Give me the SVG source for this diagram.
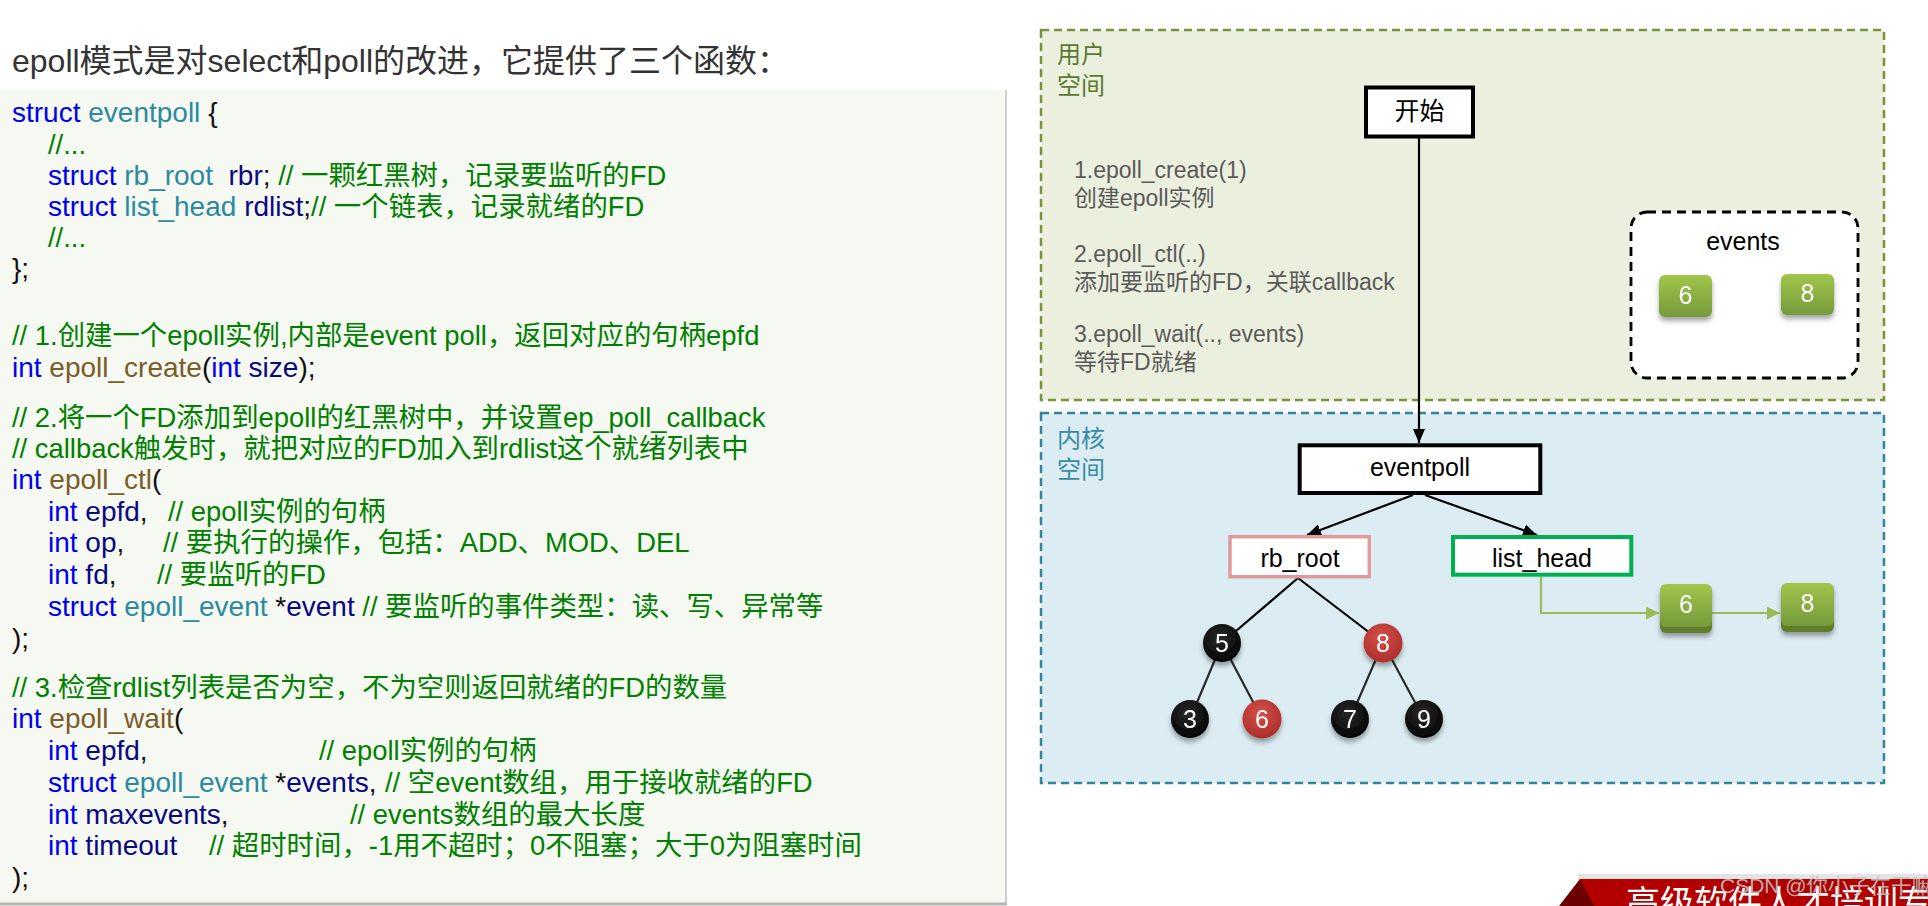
<svg xmlns="http://www.w3.org/2000/svg" width="1928" height="906" viewBox="0 0 1928 906">
<defs>
<style>
.t{font-family:"Liberation Sans","Noto Sans CJK SC",sans-serif;}
.code{font-family:"Liberation Sans","Noto Sans CJK SC",sans-serif;font-size:28px;white-space:pre;}
.kw{fill:#0000f0}.ty{fill:#2b8a9e}.id{fill:#0a0a80}.fn{fill:#7a5c28}.p{fill:#111}
.cm{fill:#008000;font-size:27.4px}
.lbl{font-size:25px;fill:#000;text-anchor:middle}
.num{font-size:25px;fill:#fff;text-anchor:middle}
.step{font-size:23px;fill:#5a5a5a}
.edge{stroke:#000;stroke-width:2.2;fill:none}
.leaf{stroke:#2a2a2a;stroke-width:2.2;fill:none}
.garrow{stroke:#9bbb59;stroke-width:2.2;fill:none}
</style>
<marker id="ah" viewBox="0 0 14 12" refX="14" refY="6" markerWidth="14" markerHeight="12" markerUnits="userSpaceOnUse" orient="auto"><path d="M0,0 L14,6 L0,12 z" fill="#000"/></marker>
<marker id="gh" viewBox="0 0 13 13" refX="13" refY="6.5" markerWidth="13" markerHeight="13" markerUnits="userSpaceOnUse" orient="auto"><path d="M0,0 L13,6.5 L0,13 z" fill="#9bbb59"/></marker>
<linearGradient id="gg" x1="0" y1="0" x2="0" y2="1"><stop offset="0" stop-color="#a0c64c"/><stop offset="1" stop-color="#76993a"/></linearGradient>
<radialGradient id="bg" cx="0.45" cy="0.35" r="0.7"><stop offset="0" stop-color="#2a2a2a"/><stop offset="1" stop-color="#000"/></radialGradient>
<radialGradient id="rg" cx="0.45" cy="0.35" r="0.7"><stop offset="0" stop-color="#d4504a"/><stop offset="1" stop-color="#a92c28"/></radialGradient>
<filter id="sh" x="-40%" y="-40%" width="180%" height="190%"><feDropShadow dx="0" dy="4" stdDeviation="2.5" flood-color="#000" flood-opacity="0.35"/></filter>
</defs>

<rect width="1928" height="906" fill="#fff"/>

<!-- left: code panel -->
<g id="code-panel">
<text class="t" x="12" y="72" font-size="32" fill="#333">epoll模式是对select和poll的改进，它提供了三个函数：</text>
<rect x="0" y="90" width="1006" height="813" fill="#f6f8f2"/>
<line x1="1006" y1="90" x2="1006" y2="903" stroke="#cfcfcf" stroke-width="2"/>
<line x1="0" y1="904" x2="1007" y2="904" stroke="#b5b5b5" stroke-width="3"/>
<text class="code" x="12" y="122"><tspan class="kw">struct</tspan> <tspan class="ty">eventpoll</tspan> <tspan class="p">{</tspan></text>
<text class="code cm" x="48" y="154">//...</text>
<text class="code" x="48" y="185"><tspan class="kw">struct</tspan> <tspan class="ty">rb_root</tspan>  <tspan class="id">rbr</tspan><tspan class="p">;</tspan><tspan class="cm"> // 一颗红黑树，记录要监听的FD</tspan></text>
<text class="code" x="48" y="216"><tspan class="kw">struct</tspan> <tspan class="ty">list_head</tspan> <tspan class="id">rdlist</tspan><tspan class="p">;</tspan><tspan class="cm">// 一个链表，记录就绪的FD</tspan></text>
<text class="code cm" x="48" y="247">//...</text>
<text class="code p" x="12" y="278">};</text>

<text class="code cm" x="12" y="345">// 1.创建一个epoll实例,内部是event poll，返回对应的句柄epfd</text>
<text class="code" x="12" y="377"><tspan class="kw">int</tspan> <tspan class="fn">epoll_create</tspan><tspan class="p">(</tspan><tspan class="kw">int</tspan> <tspan class="id">size</tspan><tspan class="p">);</tspan></text>

<text class="code cm" x="12" y="427">// 2.将一个FD添加到epoll的红黑树中，并设置ep_poll_callback</text>
<text class="code cm" x="12" y="458">// callback触发时，就把对应的FD加入到rdlist这个就绪列表中</text>
<text class="code" x="12" y="489"><tspan class="kw">int</tspan> <tspan class="fn">epoll_ctl</tspan><tspan class="p">(</tspan></text>
<text class="code" x="48" y="521"><tspan class="kw">int</tspan> <tspan class="id">epfd</tspan><tspan class="p">,</tspan><tspan class="cm" x="168">// epoll实例的句柄</tspan></text>
<text class="code" x="48" y="552"><tspan class="kw">int</tspan> <tspan class="id">op</tspan><tspan class="p">,</tspan><tspan class="cm" x="163">// 要执行的操作，包括：ADD、MOD、DEL</tspan></text>
<text class="code" x="48" y="584"><tspan class="kw">int</tspan> <tspan class="id">fd</tspan><tspan class="p">,</tspan><tspan class="cm" x="157">// 要监听的FD</tspan></text>
<text class="code" x="48" y="616"><tspan class="kw">struct</tspan> <tspan class="ty">epoll_event</tspan> <tspan class="p">*</tspan><tspan class="id">event</tspan><tspan class="cm"> // 要监听的事件类型：读、写、异常等</tspan></text>
<text class="code p" x="12" y="648">);</text>

<text class="code cm" x="12" y="697">// 3.检查rdlist列表是否为空，不为空则返回就绪的FD的数量</text>
<text class="code" x="12" y="728"><tspan class="kw">int</tspan> <tspan class="fn">epoll_wait</tspan><tspan class="p">(</tspan></text>
<text class="code" x="48" y="760"><tspan class="kw">int</tspan> <tspan class="id">epfd</tspan><tspan class="p">,</tspan><tspan class="cm" x="319">// epoll实例的句柄</tspan></text>
<text class="code" x="48" y="792"><tspan class="kw">struct</tspan> <tspan class="ty">epoll_event</tspan> <tspan class="p">*</tspan><tspan class="id">events</tspan><tspan class="p">,</tspan><tspan class="cm" x="385">// 空event数组，用于接收就绪的FD</tspan></text>
<text class="code" x="48" y="824"><tspan class="kw">int</tspan> <tspan class="id">maxevents</tspan><tspan class="p">,</tspan><tspan class="cm" x="350">// events数组的最大长度</tspan></text>
<text class="code" x="48" y="855"><tspan class="kw">int</tspan> <tspan class="id">timeout</tspan><tspan class="cm" x="209">// 超时时间，-1用不超时；0不阻塞；大于0为阻塞时间</tspan></text>
<text class="code p" x="12" y="887">);</text>
</g>

<!-- right: regions -->
<g id="user-space">
<rect x="1041" y="30" width="843" height="370" fill="#ebefde" stroke="#77933c" stroke-width="2.5" stroke-dasharray="8 5"/>
<text class="t" x="1057" y="63" font-size="24" fill="#5b7a2e">用户</text>
<text class="t" x="1057" y="94" font-size="24" fill="#5b7a2e">空间</text>
</g>
<g id="kernel-space">
<rect x="1041" y="413" width="843" height="370" fill="#dbedf3" stroke="#31849b" stroke-width="2.5" stroke-dasharray="8 5"/>
<text class="t" x="1057" y="447" font-size="24" fill="#3a8ca6">内核</text>
<text class="t" x="1057" y="478" font-size="24" fill="#3a8ca6">空间</text>
</g>

<g id="steps">
<text class="t step" x="1074" y="178">1.epoll_create(1)</text>
<text class="t step" x="1074" y="206">创建epoll实例</text>
<text class="t step" x="1074" y="262">2.epoll_ctl(..)</text>
<text class="t step" x="1074" y="290">添加要监听的FD，关联callback</text>
<text class="t step" x="1074" y="342">3.epoll_wait(.., events)</text>
<text class="t step" x="1074" y="370">等待FD就绪</text>
</g>

<!-- connectors -->
<g id="connectors">
<line class="edge" x1="1419" y1="138" x2="1419" y2="443" marker-end="url(#ah)"/>
<line class="edge" x1="1413" y1="495" x2="1307" y2="535" marker-end="url(#ah)"/>
<line class="edge" x1="1425" y1="495" x2="1537" y2="535" marker-end="url(#ah)"/>
<line class="edge" x1="1298" y1="578" x2="1222" y2="643"/>
<line class="edge" x1="1298" y1="578" x2="1383" y2="643"/>
<line class="leaf" x1="1222" y1="643" x2="1190" y2="719"/>
<line class="leaf" x1="1222" y1="643" x2="1262" y2="719"/>
<line class="leaf" x1="1383" y1="643" x2="1350" y2="719"/>
<line class="leaf" x1="1383" y1="643" x2="1424" y2="719"/>
<polyline class="garrow" points="1541,577 1541,613 1659,613" marker-end="url(#gh)"/>
<line class="garrow" x1="1712" y1="613" x2="1780" y2="613" marker-end="url(#gh)"/>
</g>

<g id="start">
<rect x="1366" y="87.5" width="107" height="49" fill="#fff" stroke="#000" stroke-width="4"/>
<text class="t lbl" x="1419.5" y="120" font-size="24">开始</text>
</g>

<g id="events">
<rect x="1631" y="212" width="227" height="166" rx="16" fill="#fff" stroke="#000" stroke-width="2.8" stroke-dasharray="9 6"/>
<text class="t lbl" x="1743" y="250">events</text>
</g>
<g id="ev6" filter="url(#sh)">
<rect x="1659" y="275" width="53" height="42" rx="6" fill="url(#gg)"/>
<text class="t num" x="1685.5" y="304">6</text>
</g>
<g id="ev8" filter="url(#sh)">
<rect x="1781" y="274" width="53" height="41" rx="6" fill="url(#gg)"/>
<text class="t num" x="1807.5" y="302">8</text>
</g>

<g id="eventpoll">
<rect x="1299.7" y="445.3" width="240.6" height="47.7" fill="#fff" stroke="#000" stroke-width="4"/>
<text class="t lbl" x="1420" y="476">eventpoll</text>
</g>
<g id="rb_root">
<rect x="1230" y="536.7" width="139.3" height="40" fill="#fff" stroke="#e09a9a" stroke-width="3.5"/>
<text class="t lbl" x="1300" y="567">rb_root</text>
</g>
<g id="list_head">
<rect x="1453" y="537" width="178.3" height="37.7" fill="#fff" stroke="#00b050" stroke-width="4"/>
<text class="t lbl" x="1542" y="567">list_head</text>
</g>

<g id="n5" filter="url(#sh)"><circle cx="1222" cy="643" r="19" fill="url(#bg)"/><text class="t num" x="1222" y="652">5</text></g>
<g id="n8" filter="url(#sh)"><circle cx="1383" cy="643" r="19.5" fill="url(#rg)"/><text class="t num" x="1383" y="652">8</text></g>
<g id="n3" filter="url(#sh)"><circle cx="1190" cy="719" r="19" fill="url(#bg)"/><text class="t num" x="1190" y="728">3</text></g>
<g id="n6" filter="url(#sh)"><circle cx="1262" cy="719" r="19.5" fill="url(#rg)"/><text class="t num" x="1262" y="728">6</text></g>
<g id="n7" filter="url(#sh)"><circle cx="1350" cy="719" r="19" fill="url(#bg)"/><text class="t num" x="1350" y="728">7</text></g>
<g id="n9" filter="url(#sh)"><circle cx="1424" cy="719" r="19" fill="url(#bg)"/><text class="t num" x="1424" y="728">9</text></g>

<g id="rd6" filter="url(#sh)">
<rect x="1660" y="590" width="52" height="43" rx="6" fill="#5f7e2b"/>
<rect x="1660" y="584" width="52" height="43" rx="6" fill="url(#gg)"/>
<text class="t num" x="1686" y="613">6</text>
</g>
<g id="rd8" filter="url(#sh)">
<rect x="1781" y="589" width="53" height="43" rx="6" fill="#5f7e2b"/>
<rect x="1781" y="583" width="53" height="43" rx="6" fill="url(#gg)"/>
<text class="t num" x="1807.5" y="612">8</text>
</g>

<!-- banner and watermark -->
<g id="banner">
<rect x="1578" y="874" width="350" height="6" fill="#e4e4e4"/>
<rect x="1580" y="879" width="348" height="27" fill="#b20000"/>
<polygon points="1559,906 1580,879 1594,906" fill="#6a0000"/>
<text x="1626" y="915" font-family="'Noto Sans CJK SC',sans-serif" font-size="34" fill="#fff">高级软件人才培训专</text>
<text x="1720" y="893" font-family="'Liberation Sans','Noto Sans CJK SC',sans-serif" font-size="21" fill="#c4c4c4" fill-opacity="0.9">CSDN @你小子在干嘛</text>
</g>
</svg>
